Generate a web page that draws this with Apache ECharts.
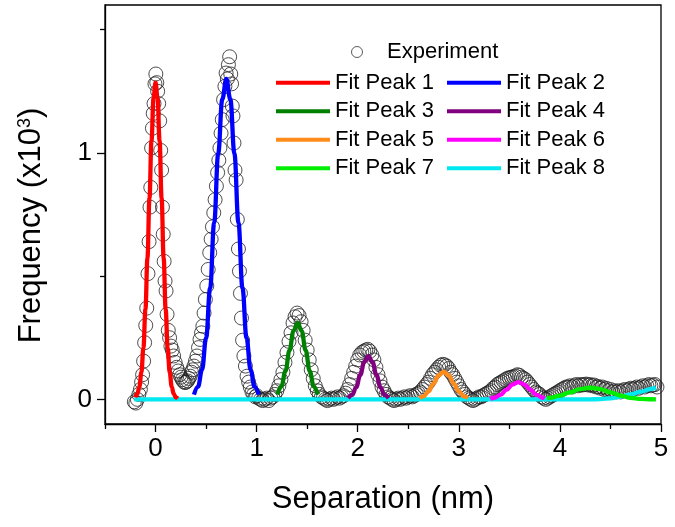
<!DOCTYPE html>
<html><head><meta charset="utf-8">
<script src="https://cdn.jsdelivr.net/npm/echarts@6/dist/echarts.min.js"></script>
<style>html,body{margin:0;padding:0;background:#fff}#c{width:675px;height:527px}</style>
</head><body><div id="c"></div>
<script>
// ---- tick values ----
const xTickValues = [0, 1, 2, 3, 4, 5];
const xMinorTickValues = [-0.5, 0.5, 1.5, 2.5, 3.5, 4.5];
const yTickValues = [0, 1];
const yMinorTickValues = [0.5, 1.5];

// ---- experiment: [separation nm, frequency x10^3] ----
const experiment = [
[-0.21,-0.01],[-0.195,-0.015],[-0.18,0.0],[-0.165,0.02],[-0.15,0.04],[-0.138,0.07],[-0.128,0.10],[-0.118,0.155],[-0.108,0.23],[-0.097,0.30],[-0.087,0.37],[-0.075,0.51],[-0.064,0.64],[-0.055,0.78],[-0.047,0.86],[-0.039,1.02],[-0.031,1.10],[-0.023,1.16],[-0.015,1.20],[-0.006,1.28],[0.003,1.32],[0.012,1.285],[0.021,1.25],[0.031,1.20],[0.041,1.13],[0.051,1.01],[0.06,0.93],[0.068,0.78],[0.076,0.67],[0.085,0.56],[0.094,0.48],[0.104,0.44],[0.114,0.345],[0.126,0.28],[0.139,0.25],[0.152,0.216],[0.165,0.20],[0.179,0.176],[0.194,0.15],[0.209,0.13],[0.224,0.115],[0.239,0.10],[0.252,0.09],[0.265,0.08],[0.278,0.072],[0.291,0.068],[0.304,0.07],[0.317,0.075],[0.33,0.085],[0.343,0.094],[0.356,0.11],[0.368,0.12],[0.38,0.135],[0.395,0.155],[0.41,0.176],[0.425,0.21],[0.44,0.243],[0.455,0.27],[0.468,0.297],[0.48,0.35],[0.493,0.405],[0.507,0.46],[0.521,0.527],[0.536,0.595],[0.55,0.65],[0.563,0.70],[0.576,0.757],[0.589,0.81],[0.602,0.865],[0.614,0.92],[0.626,0.97],[0.637,1.02],[0.648,1.08],[0.66,1.135],[0.673,1.216],[0.686,1.27],[0.698,1.324],[0.71,1.30],[0.721,1.358],[0.733,1.39],[0.744,1.32],[0.752,1.28],[0.759,1.19],[0.766,1.15],[0.776,1.04],[0.786,0.93],[0.797,0.89],[0.809,0.73],[0.82,0.61],[0.83,0.52],[0.84,0.43],[0.85,0.33],[0.861,0.24],[0.874,0.176],[0.889,0.135],[0.905,0.094],[0.921,0.07],[0.937,0.05],[0.954,0.03],[0.971,0.02],[0.988,0.01],
[1.00,0.015],[1.02,0.005],[1.04,0.0],[1.06,-0.005],[1.08,0.0],[1.10,0.005],[1.12,-0.005],[1.14,0.005],[1.16,0.01],[1.18,0.02],[1.20,0.035],[1.22,0.055],[1.24,0.08],[1.26,0.11],[1.28,0.15],[1.30,0.19],[1.32,0.235],[1.34,0.27],[1.36,0.31],[1.38,0.335],[1.40,0.35],[1.42,0.34],[1.44,0.315],[1.46,0.28],[1.48,0.24],[1.50,0.20],[1.52,0.16],[1.54,0.12],[1.56,0.085],[1.58,0.055],[1.60,0.035],[1.62,0.02],[1.64,0.01],[1.66,0.005],[1.68,0.0],[1.70,-0.005],[1.72,0.0],[1.74,0.005],[1.76,0.0],[1.78,0.005],[1.80,0.01],[1.82,0.005],[1.84,0.01],[1.86,0.015],[1.88,0.025],[1.90,0.04],[1.92,0.06],[1.94,0.085],[1.96,0.11],[1.98,0.135],[2.00,0.16],[2.02,0.18],[2.04,0.19],[2.06,0.195],[2.08,0.20],[2.10,0.203],[2.12,0.195],[2.14,0.18],[2.16,0.16],[2.18,0.13],[2.20,0.10],[2.22,0.075],[2.24,0.05],[2.26,0.035],[2.28,0.02],[2.30,0.01],[2.32,0.005],[2.34,0.0],[2.36,-0.005],[2.38,0.0],[2.40,0.005],[2.42,0.0],[2.44,0.005],[2.46,0.01],[2.48,0.005],[2.50,0.01],[2.52,0.015],[2.54,0.01],[2.56,0.015],[2.58,0.02],[2.60,0.025],[2.62,0.03],[2.64,0.04],[2.66,0.05],[2.68,0.06],[2.70,0.07],[2.72,0.085],[2.74,0.10],[2.76,0.11],[2.78,0.12],[2.80,0.13],[2.82,0.138],[2.84,0.142],[2.86,0.14],[2.88,0.135],[2.90,0.125],[2.92,0.11],[2.94,0.10],[2.96,0.085],[2.98,0.07],[3.00,0.055],[3.02,0.04],[3.04,0.03],[3.06,0.02],[3.08,0.01],[3.10,0.005],[3.12,0.0],[3.14,-0.005],[3.16,0.0],[3.18,0.005],[3.20,0.01],[3.22,0.01],[3.24,0.015],[3.26,0.02],[3.28,0.025],[3.30,0.03],[3.32,0.035],[3.34,0.045],[3.36,0.05],[3.38,0.06],[3.40,0.065],[3.42,0.07],[3.44,0.075],[3.46,0.08],[3.48,0.085],[3.50,0.088],[3.52,0.09],[3.54,0.092],[3.56,0.095],[3.58,0.10],[3.60,0.097],[3.62,0.09],[3.64,0.085],[3.66,0.08],[3.68,0.07],[3.70,0.06],[3.72,0.05],[3.74,0.04],[3.76,0.03],[3.78,0.025],[3.80,0.02],[3.82,0.01],[3.84,0.005],[3.86,0.0],[3.88,0.005],[3.90,0.01],[3.92,0.015],[3.94,0.02],[3.96,0.025],[3.98,0.03],[4.00,0.035],[4.02,0.04],[4.04,0.045],[4.06,0.05],[4.08,0.05],[4.10,0.055],[4.12,0.05],[4.14,0.055],[4.16,0.06],[4.18,0.055],[4.20,0.06],[4.22,0.058],[4.24,0.06],[4.26,0.062],[4.28,0.058],[4.30,0.06],[4.32,0.055],[4.34,0.058],[4.36,0.05],[4.38,0.052],[4.40,0.045],[4.42,0.05],[4.44,0.04],[4.46,0.045],[4.48,0.035],[4.50,0.04],[4.52,0.03],[4.54,0.035],[4.56,0.03],[4.58,0.035],[4.60,0.03],[4.62,0.035],[4.64,0.04],[4.66,0.035],[4.68,0.04],[4.70,0.045],[4.72,0.04],[4.74,0.045],[4.76,0.05],[4.78,0.045],[4.80,0.05],[4.82,0.055],[4.84,0.05],[4.86,0.055],[4.88,0.06],[4.90,0.055],[4.92,0.058],[4.94,0.06],[4.96,0.05]
];

// ---- fitted peaks ----
const fitPeak1 = [[-0.20,0.008],[-0.18,0.022],[-0.16,0.051],[-0.14,0.109],[-0.12,0.209],[-0.10,0.365],[-0.08,0.574],[-0.06,0.817],[-0.04,1.050],[-0.02,1.222],[0.00,1.285],[0.02,1.222],[0.04,1.050],[0.06,0.817],[0.08,0.574],[0.10,0.365],[0.12,0.209],[0.14,0.109],[0.16,0.051],[0.18,0.022],[0.20,0.008],[0.22,0.003]];
const fitPeak2 = [[0.38,0.019],[0.42,0.051],[0.46,0.120],[0.50,0.249],[0.54,0.451],[0.58,0.717],[0.62,0.998],[0.66,1.217],[0.70,1.300],[0.74,1.217],[0.78,0.998],[0.82,0.717],[0.86,0.451],[0.90,0.249],[0.94,0.120],[0.98,0.051],[1.02,0.019]];
const fitPeak3 = [[1.205,0.019],[1.245,0.053],[1.285,0.114],[1.325,0.199],[1.365,0.278],[1.405,0.310],[1.445,0.278],[1.485,0.199],[1.525,0.114],[1.565,0.053],[1.605,0.019]];
const fitPeak4 = [[1.905,0.005],[1.945,0.018],[1.985,0.049],[2.025,0.099],[2.065,0.152],[2.105,0.175],[2.145,0.152],[2.185,0.099],[2.225,0.049],[2.265,0.018],[2.305,0.005]];
const fitPeak5 = [[2.61,0.005],[2.65,0.012],[2.70,0.032],[2.75,0.064],[2.80,0.0975],[2.85,0.112],[2.90,0.0975],[2.95,0.064],[3.00,0.032],[3.05,0.012],[3.09,0.005]];
const fitPeak6 = [[3.31,0.0027],[3.35,0.0065],[3.41,0.018],[3.47,0.0386],[3.53,0.060],[3.59,0.070],[3.65,0.060],[3.71,0.0386],[3.77,0.018],[3.83,0.0065],[3.85,0.0043]];
const fitPeak7 = [[3.87,0.0047],[3.90,0.0064],[4.00,0.0153],[4.10,0.0285],[4.20,0.0415],[4.30,0.047],[4.40,0.0415],[4.50,0.0285],[4.60,0.0153],[4.70,0.0064],[4.80,0.002],[4.90,0.0005],[4.95,0.0002]];
const fitPeak8 = [[-0.21,0],[4.30,0],[4.40,0.001],[4.50,0.004],[4.60,0.011],[4.70,0.02],[4.80,0.031],[4.90,0.042],[4.95,0.048]];

const fitNames = ['Fit Peak 1','Fit Peak 2','Fit Peak 3','Fit Peak 4','Fit Peak 5','Fit Peak 6','Fit Peak 7','Fit Peak 8'];
const fitData = [fitPeak1, fitPeak2, fitPeak3, fitPeak4, fitPeak5, fitPeak6, fitPeak7, fitPeak8];
const fitColors = ['#ff0000','#0000ff','#008000','#800080','#ff8c1a','#ff00ff','#00ee00','#00e8f0'];

const FONT = '"Liberation Sans", Arial, sans-serif';
const chart = echarts.init(document.getElementById('c'));

const fitSeries = fitData.map((d, i) => ({
  name: fitNames[i], type: 'line', data: d, showSymbol: false, symbol: 'none',
  smooth: 0.4, smoothMonotone: 'x',
  lineStyle: { color: fitColors[i], width: 4.3 }, itemStyle: { color: fitColors[i] },
  emphasis: { disabled: true }, z: 3
}));
fitSeries[7].z = 2.5;

const legendText = { fontSize: 22, color: '#000', fontFamily: FONT, lineHeight: 28.5 };
const tickLine = { color: '#000', width: 1.3 };

chart.setOption({
  animation: false,
  backgroundColor: '#fff',
  textStyle: { fontFamily: FONT },
  grid: { left: 105, right: 14, top: 5, bottom: 103, show: true, borderColor: '#000', borderWidth: 1.3, backgroundColor: 'transparent' },
  xAxis: [{
    type: 'value', min: -0.5, max: 5,
    axisLine: { onZero: false, lineStyle: tickLine },
    axisTick: { customValues: xTickValues, length: 8, lineStyle: tickLine },
    axisLabel: { customValues: xTickValues, fontSize: 26, color: '#000', margin: 12, fontFamily: FONT },
    splitLine: { show: false },
    name: 'Separation (nm)', nameLocation: 'middle', nameGap: 60,
    nameTextStyle: { fontSize: 31, color: '#000', fontFamily: FONT }
  }, {
    type: 'value', min: -0.5, max: 5, position: 'bottom',
    axisLine: { show: false, onZero: false },
    axisTick: { customValues: xMinorTickValues, length: 5, lineStyle: tickLine },
    axisLabel: { show: false }, splitLine: { show: false }
  }],
  yAxis: [{
    type: 'value', min: -0.1, max: 1.6, position: 'left',
    axisLine: { show: true, onZero: false, lineStyle: tickLine },
    axisTick: { show: true, customValues: yTickValues, length: 8, lineStyle: tickLine },
    axisLabel: { customValues: yTickValues, fontSize: 26, color: '#000', margin: 13, fontFamily: FONT },
    splitLine: { show: false },
    name: 'Frequency (x10{sup|3})', nameLocation: 'middle', nameGap: 58,
    nameTextStyle: { fontSize: 31, color: '#000', fontFamily: FONT, padding: [0, 22, 0, 0],
      rich: { sup: { fontSize: 18, color: '#000', fontFamily: FONT, verticalAlign: 'top', lineHeight: 18 } } }
  }, {
    type: 'value', min: -0.1, max: 1.6, position: 'left',
    axisLine: { show: false, onZero: false },
    axisTick: { show: true, customValues: yMinorTickValues, length: 5, lineStyle: tickLine },
    axisLabel: { show: false }, splitLine: { show: false }
  }],
  legend: [{
    data: [{ name: 'Experiment', icon: 'circle', itemStyle: { color: 'rgba(0,0,0,0)', borderColor: '#333', borderWidth: 1 } }],
    left: 351, top: 37.75, padding: 0, itemWidth: 50, itemHeight: 11, textStyle: legendText, selectedMode: false
  }, {
    data: ['Fit Peak 1','Fit Peak 3','Fit Peak 5','Fit Peak 7'], orient: 'vertical',
    left: 276, top: 68.5, padding: 0, itemGap: 0, itemWidth: 54, itemHeight: 4, icon: 'rect',
    textStyle: legendText, selectedMode: false
  }, {
    data: ['Fit Peak 2','Fit Peak 4','Fit Peak 6','Fit Peak 8'], orient: 'vertical',
    left: 447, top: 68.5, padding: 0, itemGap: 0, itemWidth: 54, itemHeight: 4, icon: 'rect',
    textStyle: legendText, selectedMode: false
  }],
  series: [{
    name: 'Experiment', type: 'scatter', data: experiment, symbol: 'circle', symbolSize: 14,
    itemStyle: { color: 'rgba(0,0,0,0)', borderColor: '#222', borderWidth: 1 },
    emphasis: { disabled: true }, z: 2
  }].concat(fitSeries)
});
</script></body></html>
